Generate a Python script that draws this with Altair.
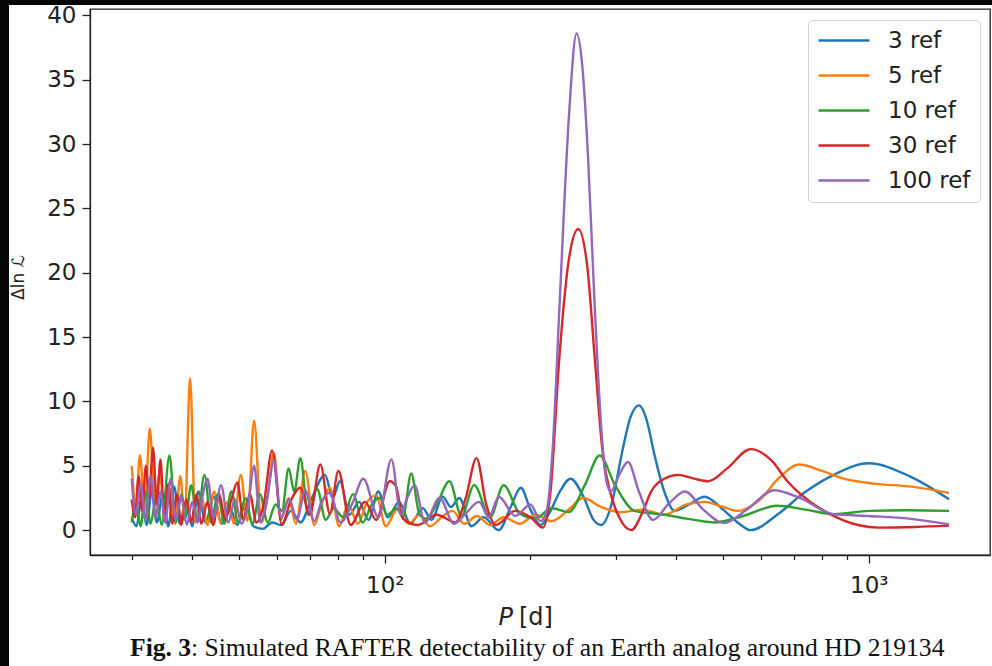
import altair as alt
import pandas as pd

SERIES = ["3 ref", "5 ref", "10 ref", "30 ref", "100 ref"]
COLORS = ["#1f77b4", "#ff7f0e", "#2ca02c", "#d62728", "#9467bd"]

# ---- 3 ref (blue)
P_3 = [30.0, 30.7, 31.4, 32.2, 33.0, 33.8, 34.8, 35.7, 36.7, 37.7, 38.8, 40.0, 41.2, 42.6, 44.4, 46.0,
       47.8, 49.6, 51.5, 53.5, 56.0, 58.5, 61.0, 64.0, 67.0, 70.5, 75.3, 78.0, 80.8, 84.5, 88.5, 92.5,
       97.0, 101.5, 107, 113, 119.8, 125, 131.7, 137, 142.6, 151, 160, 172, 182, 191, 200, 210, 220,
       230, 242, 258, 270, 280, 295, 309, 322, 335, 348, 360, 378, 397, 425, 458, 500, 540, 570, 647,
       735, 846, 1000, 1213, 1465]
V_3 = [1.0, 0.3, 2.5, 0.4, 3.0, 0.6, 2.8, 0.3, 3.4, 0.5, 2.2, 0.3, 3.0, 0.6, 2.6, 0.5,
       1.8, 0.4, 2.0, 0.3, 0.1, 0.6, 0.4, 1.5, 0.6, 2.4, 4.3, 2.5, 3.8, 1.2, 2.2, 0.8,
       3.0, 1.0, 2.2, 0.5, 1.7, 0.8, 2.6, 1.8, 2.5, 0.3, 1.0, 0.0, 1.8, 3.3, 1.6, 0.4, 1.5,
       3.0, 4.0, 2.5, 0.8, 0.4, 2.2, 6.0, 8.8, 9.7, 8.5, 6.0, 3.0, 1.5, 2.0, 2.6, 1.6, 0.5, 0.0, 1.2,
       2.9, 4.3, 5.2, 4.2, 2.4]

# ---- 5 ref (orange)
P_5 = [30.0, 30.6, 31.2, 31.9, 32.7, 33.5, 34.3, 35.1, 36.0, 36.9, 37.8, 38.6, 39.6, 40.6, 41.8, 43.0,
       44.4, 45.8, 47.3, 48.8, 50.4, 52.0, 53.7, 55.6, 57.2, 59.0, 61.0, 63.3, 65.5, 68.5, 71.5, 74.0,
       77.0, 80.5, 84.0, 88.0, 92.0, 96.0, 100.5, 106, 112, 118, 124, 131, 138, 146, 155, 165, 176,
       190, 205, 221, 240, 257, 280, 308, 340, 378, 420, 458, 500, 536, 597, 650, 718, 800, 887, 1038,
       1213, 1465]
V_5 = [5.0, 2.0, 5.8, 1.5, 7.9, 1.8, 4.5, 0.8, 3.2, 0.5, 4.2, 0.8, 11.8, 0.6, 2.6, 0.4,
       3.0, 0.6, 2.2, 0.5, 4.3, 0.7, 8.5, 0.6, 2.5, 6.0, 0.8, 2.5, 0.5, 4.6, 0.4, 2.0,
       3.3, 0.3, 2.0, 0.5, 2.2, 2.7, 0.3, 1.6, 0.5, 1.2, 0.3, 1.0, 1.5, 0.5, 1.1, 0.4, 1.0,
       0.5, 1.2, 0.7, 1.6, 2.5, 1.8, 1.4, 1.6, 1.2, 2.0, 2.2, 1.8, 1.5, 2.4, 4.0, 5.1, 4.6, 4.0, 3.6,
       3.4, 2.9]

# ---- 10 ref (green)
P_10 = [30.0, 30.6, 31.3, 32.0, 32.8, 33.7, 34.6, 35.9, 37.0, 38.0, 38.8, 39.8, 41.0, 42.4, 43.8, 45.2,
        46.6, 48.2, 49.8, 51.5, 53.3, 55.2, 57.3, 59.5, 61.3, 63.3, 65.0, 66.9, 69.5, 72.5, 75.5, 78.5,
        82.0, 86.0, 90.0, 94.0, 97.7, 101.0, 106.0, 109.0, 113.4, 118.0, 121.8, 128.0, 136.0, 144.0,
        153.0, 165.0, 176.0, 190.0, 205.0, 221.0, 240.0, 259.0, 278.0, 299.0, 328.0, 378.0, 420.0,
        480.0, 550.0, 647.0, 740.0, 846.0, 1000.0, 1200.0, 1465.0]
V_10 = [0.6, 2.0, 0.3, 3.0, 0.5, 2.5, 0.4, 5.8, 0.6, 2.8, 1.0, 3.5, 0.8, 4.3, 0.6, 2.8,
        0.5, 3.0, 0.6, 2.5, 0.5, 2.8, 0.6, 2.0, 1.5, 4.8, 3.0, 5.6, 1.2, 3.2, 0.8, 1.7,
        1.0, 2.8, 0.6, 2.0, 2.5, 1.2, 1.7, 1.0, 4.4, 1.2, 0.9, 2.0, 3.8, 1.1,
        3.5, 1.0, 3.5, 1.3, 0.9, 1.7, 1.4, 3.5, 5.8, 3.5, 1.5, 1.2, 0.9,
        0.6, 1.1, 1.9, 1.6, 1.25, 1.5, 1.55, 1.5]

# ---- 30 ref (red)
P_30 = [30.0, 30.5, 31.0, 31.5, 32.1, 32.6, 33.2, 33.8, 34.4, 35.0, 35.7, 36.4, 37.2, 38.0, 38.9, 39.8,
        40.8, 41.8, 43.0, 44.2, 45.5, 46.8, 48.2, 49.6, 51.0, 52.6, 54.3, 56.2, 58.5, 61.3, 63.8, 66.9,
        70.0, 73.6, 77.0, 80.2, 85.0, 91.0, 96.0, 102.4, 105.5, 109.0, 117.0, 128.0, 140.0, 147.0,
        154.7, 162.0, 169.6, 186.0, 200.0, 212.0, 220.0, 229.0, 240.0, 251.0, 262.0, 272.0, 282.0,
        292.0, 305.0, 323.0, 340.0, 355.0, 378.0, 404.0, 435.0, 466.0, 510.0, 570.0, 630.0, 679.0,
        792.0, 858.0, 950.0, 1050.0, 1250.0, 1465.0]
V_30 = [2.4, 1.0, 4.2, 1.5, 5.0, 2.5, 6.4, 2.0, 5.5, 1.0, 3.6, 0.5, 2.8, 0.4, 2.4, 0.6,
        2.8, 0.5, 2.2, 0.4, 2.8, 0.8, 2.4, 3.7, 0.8, 2.8, 0.6, 2.0, 6.2, 0.4, 2.2, 3.3,
        1.2, 5.1, 1.3, 4.6, 0.4, 2.2, 0.8, 3.8, 3.4, 0.9, 0.4, 1.2, 0.6, 2.5,
        5.6, 2.0, 0.4, 1.5, 1.0, 0.2, 3.0, 13.0, 21.0, 23.4, 20.5, 13.0, 6.0,
        3.0, 1.0, 0.0, 1.3, 3.0, 4.0, 4.3, 4.0, 3.8, 4.8, 6.3, 5.4, 3.8,
        1.7, 1.0, 0.4, 0.2, 0.25, 0.35]

# ---- 100 ref (purple)
P_100 = [30.0, 30.6, 31.3, 32.0, 32.8, 33.6, 34.4, 35.2, 36.1, 37.0, 38.0, 39.0, 40.0, 41.0, 42.0, 43.0,
         44.3, 45.9, 47.5, 49.0, 50.6, 52.2, 53.7, 55.3, 57.0, 59.0, 61.0, 63.5, 65.8, 68.5, 71.5, 74.0,
         77.0, 81.0, 85.5, 90.3, 97.0, 103.2, 108.0, 111.0, 115.3, 121.0, 129.8, 139.0, 147.0, 156.6,
         164.0, 172.0, 186.0, 200.0, 210.0, 216.0, 222.0, 230.0, 240.0, 249.0, 256.0, 263.0, 271.0,
         280.0, 287.0, 293.0, 305.0, 318.0, 335.0, 358.0, 385.0, 417.0, 455.0, 502.0, 560.0, 637.0,
         720.0, 846.0, 1000.0, 1213.0, 1465.0]
V_100 = [4.0, 1.2, 3.6, 0.8, 4.2, 1.0, 3.0, 0.6, 4.0, 0.8, 2.6, 0.4, 2.2, 0.6, 2.6, 4.0,
         1.0, 3.5, 0.6, 2.4, 0.5, 2.0, 5.0, 0.6, 2.2, 5.4, 1.0, 2.4, 0.8, 3.1, 0.7, 2.2,
         2.9, 0.6, 2.0, 4.0, 1.0, 5.5, 1.2, 2.4, 3.5, 0.6, 2.5, 0.5, 1.3, 2.2,
         1.0, 2.6, 1.1, 2.0, 0.7, 1.5, 6.0, 18.0, 32.0, 38.6, 36.0, 29.0, 18.0,
         8.0, 3.8, 3.0, 4.3, 5.3, 3.0, 0.8, 2.0, 3.0, 1.6, 0.55, 1.6, 3.1,
         2.5, 1.25, 1.1, 0.9, 0.45]

X_DOMAIN = [24.6, 1780]
Y_DOMAIN = [-1.93, 40.5]
MAJOR_TICKS = [100, 1000]
MINOR_TICKS = [30, 40, 50, 60, 70, 80, 90, 200, 300, 400, 500, 600, 700, 800, 900]
Y_TICKS = [0, 5, 10, 15, 20, 25, 30, 35, 40]

X_LABEL_ITALIC = "P"
X_LABEL_REST = "[d]"
Y_LABEL = "Δln ℒ"
CAPTION_BOLD = "Fig. 3"
CAPTION_REST = ": Simulated RAFTER detectability of an Earth analog around HD 219134"

rows = []
for name, ps, vs in zip(SERIES, [P_3, P_5, P_10, P_30, P_100], [V_3, V_5, V_10, V_30, V_100]):
    for p, v in zip(ps, vs):
        rows.append({"P": p, "dlnL": v, "series": name})
df = pd.DataFrame(rows)

FONT = "DejaVu Sans"
INK = "#222222"

xscale = alt.Scale(type="log", domain=X_DOMAIN, nice=False)
yscale = alt.Scale(domain=Y_DOMAIN, nice=False, zero=False)

one = pd.DataFrame({"k": [0]})

# dark slide edges
left_strip = alt.Chart(one).mark_rect(color="#050505").encode(
    x=alt.value(-90), x2=alt.value(-81), y=alt.value(-9), y2=alt.value(657))
top_strip = alt.Chart(one).mark_rect(color="#050505").encode(
    x=alt.value(-90), x2=alt.value(902), y=alt.value(-9), y2=alt.value(-4))

lines = alt.Chart(df).mark_line(strokeWidth=2.4, interpolate="monotone", clip=True).encode(
    x=alt.X("P:Q", scale=xscale,
            axis=alt.Axis(values=MAJOR_TICKS, orient="bottom", grid=False, title=None,
                          labelExpr="datum.value == 100 ? '10²' : '10³'",
                          tickSize=8, labelPadding=11, labelFontSize=23)),
    y=alt.Y("dlnL:Q", scale=yscale,
            axis=alt.Axis(values=Y_TICKS, grid=False, title=Y_LABEL, tickSize=8,
                          labelPadding=6, labelFontSize=23, titleFontSize=17,
                          titleFontWeight="normal", titleX=-72, titleY=268,
                          titleBaseline="middle", titleAngle=270)),
    color=alt.Color("series:N", sort=SERIES,
                    scale=alt.Scale(domain=SERIES, range=COLORS),
                    legend=alt.Legend(title=None, orient="none", legendX=718, legendY=11,
                                      symbolType="stroke", symbolSize=2601,
                                      symbolStrokeWidth=2.4, labelFontSize=23,
                                      labelFont=FONT, labelColor=INK, padding=9,
                                      rowPadding=11, clipHeight=23, labelOffset=17,
                                      strokeColor="#d0d0d0", fillColor="white",
                                      cornerRadius=4)),
)

minor = alt.Chart(pd.DataFrame({"P": MINOR_TICKS})).mark_point(opacity=0).encode(
    x=alt.X("P:Q", scale=xscale,
            axis=alt.Axis(values=MINOR_TICKS, orient="bottom", labels=False, domain=False,
                          grid=False, title=None, tickSize=4.5)),
)

xlab_p = alt.Chart(one).mark_text(text=X_LABEL_ITALIC, font=FONT, fontSize=24, fontStyle="italic",
                                  align="right", baseline="alphabetic", color=INK).encode(
    x=alt.value(423), y=alt.value(616))
xlab_d = alt.Chart(one).mark_text(text=X_LABEL_REST, font=FONT, fontSize=24,
                                  align="left", baseline="alphabetic", color=INK).encode(
    x=alt.value(429), y=alt.value(616))

cap_b = alt.Chart(one).mark_text(text=CAPTION_BOLD, font="Liberation Serif", fontSize=25.6,
                                 fontWeight="bold", align="left", baseline="alphabetic",
                                 color="#111").encode(x=alt.value(40), y=alt.value(647))
cap_r = alt.Chart(one).mark_text(text=CAPTION_REST, font="Liberation Serif", fontSize=25.6,
                                 align="left", baseline="alphabetic",
                                 color="#111").encode(x=alt.value(101), y=alt.value(647))

chart = alt.layer(left_strip, top_strip, lines, minor, xlab_p, xlab_d, cap_b, cap_r).resolve_axis(
    x="independent"
).properties(
    width=900, height=546,
    autosize=alt.AutoSizeParams(type="none"),
    padding={"left": 90, "top": 9, "right": 2, "bottom": 111},
    background="white",
).configure_view(
    stroke=INK, strokeWidth=1.3
).configure_axis(
    domainColor=INK, domainWidth=1.3, tickColor=INK, tickWidth=1.3,
    labelColor=INK, labelFont=FONT, titleFont=FONT, titleColor=INK
)

chart.save("out.html", embed_options={"renderer": "svg", "actions": False})
